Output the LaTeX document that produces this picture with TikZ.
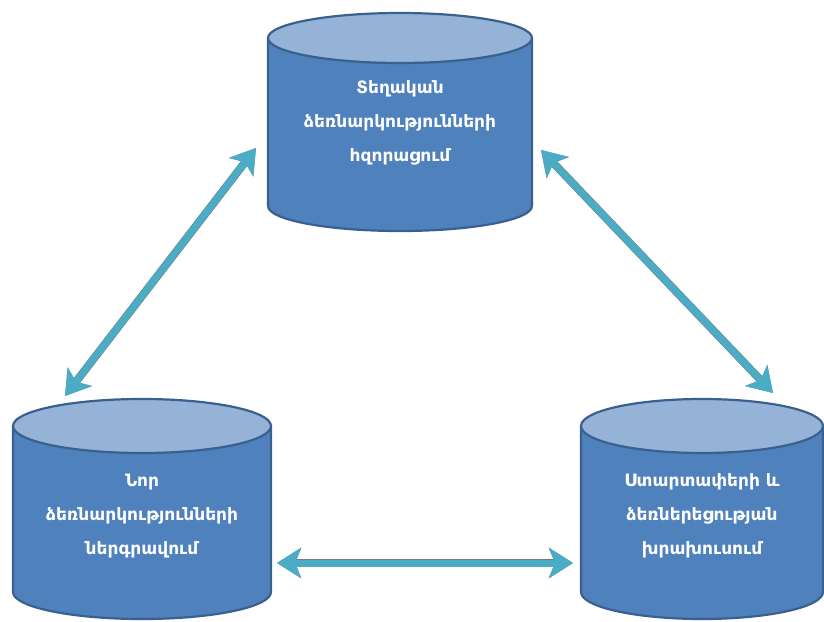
\documentclass[tikz,border=0pt]{standalone}
\usepackage{fontspec}
\setmainfont{DejaVu Sans}
\usetikzlibrary{arrows.meta}
\definecolor{body}{HTML}{4F81BD}
\definecolor{topc}{HTML}{95B3D7}
\definecolor{edge}{HTML}{3A6090}
\definecolor{arr}{HTML}{4BACC6}
\definecolor{shad}{HTML}{7A7A7A}
\tikzset{
  cylline/.style={draw=edge, line width=2.2pt},
  lbl/.style={text=white, font=\bfseries\fontsize{17}{34}\selectfont, align=center},
  shadowarrow/.style={draw=shad, line width=8pt, {Stealth[length=24pt,width=30pt,inset=6pt]}-{Stealth[length=24pt,width=30pt,inset=6pt]}},
  dblarrow/.style={draw=arr, line width=7pt, {Stealth[length=24pt,width=30pt,inset=6pt]}-{Stealth[length=24pt,width=30pt,inset=6pt]}}
}
\newcommand{\mycyl}[5]{% cx, rx, topy, boty, ry
  \fill[body] (#1-#2,#3) -- (#1-#2,#4) arc[start angle=180,end angle=0,x radius=#2,y radius=#5] -- (#1+#2,#3) -- cycle;
  \draw[cylline] (#1-#2,#3) -- (#1-#2,#4) arc[start angle=180,end angle=0,x radius=#2,y radius=#5] -- (#1+#2,#3);
  \draw[cylline, fill=topc] (#1,#3) ellipse[x radius=#2, y radius=#5];
}
\begin{document}
\begin{tikzpicture}[x=1pt,y=-1pt]
\useasboundingbox (0,0) rectangle (824,621);
\mycyl{400}{132}{38}{206}{25}
\mycyl{142}{129}{426}{592}{27}
\mycyl{702}{121}{426}{592}{27}
\node[lbl] (top) at (400,123) {Տեղական\\ձեռնարկությունների\\հզորացում};
\node[lbl] (left) at (142,516) {Նոր\\ձեռնարկությունների\\ներգրավում};
\node[lbl] (right) at (702,516) {Ստարտափերի և\\ձեռներեցության\\խրախուսում};
\coordinate (a1) at (65,396);
\coordinate (a2) at (256,148);
\coordinate (b1) at (541,150);
\coordinate (b2) at (773,393);
\coordinate (c1) at (277,563);
\coordinate (c2) at (573,563);
\begin{scope}[shift={(2,3)}]
\draw[shadowarrow] (a1) -- (a2);
\draw[shadowarrow] (b1) -- (b2);
\draw[shadowarrow] (c1) -- (c2);
\end{scope}
\draw[dblarrow] (a1) -- (a2);
\draw[dblarrow] (b1) -- (b2);
\draw[dblarrow] (c1) -- (c2);
\end{tikzpicture}
\end{document}
